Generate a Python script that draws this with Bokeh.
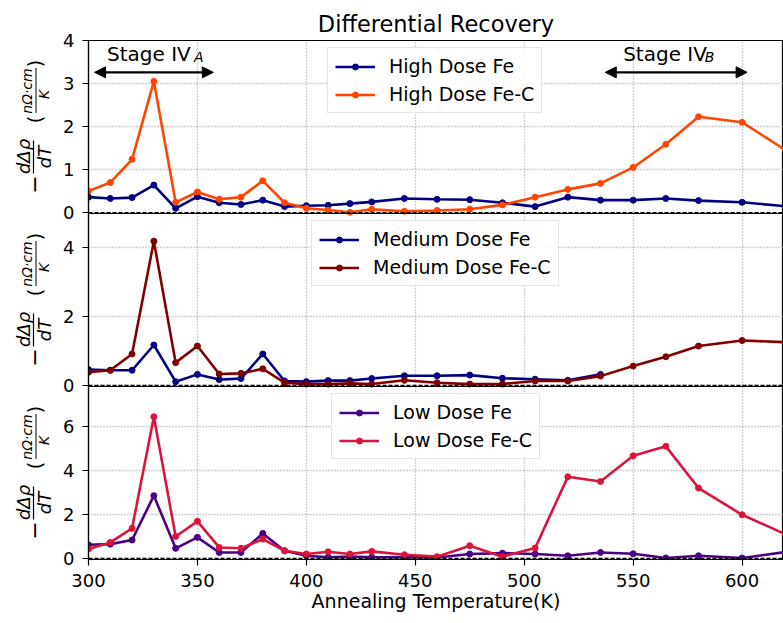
import math

from bokeh.core.properties import value
from bokeh.embed import file_html
from bokeh.layouts import row
from bokeh.models import (Arrow, FixedTicker, Label, Legend, LegendItem, NormalHead,
                          Range1d, Span)
from bokeh.plotting import figure
from bokeh.resources import INLINE

FONT = "DejaVu Sans"

# Annealing temperatures (K)
temps = [300, 310, 320, 330, 340, 350, 360, 370, 380, 390, 400, 410, 420, 430,
         445, 460, 475, 490, 505, 520, 535, 550, 565, 580, 600, 620]

# -d(delta rho)/dT in nOhm*cm/K
high_fe = [0.36, 0.33, 0.35, 0.64, 0.10, 0.37, 0.23, 0.19, 0.29, 0.14, 0.16, 0.17, 0.21, 0.25,
           0.33, 0.31, 0.30, 0.23, 0.14, 0.36, 0.29, 0.29, 0.33, 0.28, 0.24, 0.15]
high_fec = [0.50, 0.70, 1.24, 3.05, 0.24, 0.48, 0.31, 0.36, 0.74, 0.23, 0.10, 0.06, 0.01, 0.08,
            0.03, 0.05, 0.08, 0.18, 0.36, 0.54, 0.68, 1.05, 1.59, 2.23, 2.10, 1.45]

med_temps_fe = temps[:21]
med_fe = [0.46, 0.44, 0.44, 1.17, 0.11, 0.32, 0.17, 0.20, 0.91, 0.13, 0.11, 0.14, 0.14, 0.20,
          0.28, 0.28, 0.30, 0.21, 0.18, 0.15, 0.32]
med_fec = [0.38, 0.44, 0.91, 4.17, 0.66, 1.14, 0.33, 0.35, 0.48, 0.08, 0.04, 0.04, 0.06, 0.04,
           0.15, 0.08, 0.04, 0.04, 0.13, 0.13, 0.27, 0.56, 0.83, 1.14, 1.30, 1.25]

low_fe = [0.62, 0.65, 0.84, 2.86, 0.46, 0.96, 0.27, 0.27, 1.14, 0.35, 0.12, 0.05, 0.08, 0.05,
          0.05, 0.04, 0.20, 0.24, 0.20, 0.12, 0.27, 0.21, 0.02, 0.12, 0.02, 0.29]
low_fec = [0.43, 0.73, 1.37, 6.46, 1.00, 1.69, 0.50, 0.46, 0.88, 0.35, 0.20, 0.30, 0.20, 0.32,
           0.17, 0.08, 0.58, 0.08, 0.47, 3.72, 3.51, 4.68, 5.11, 3.21, 1.99, 1.10]

x_ticks = [300, 350, 400, 450, 500, 550, 600]

# Stacked sub-panels: name -> (slot from bottom, y limits, y tick values)
panels = {
    "high": (2, (-0.02, 4.0), [0, 1, 2, 3, 4]),
    "medium": (1, (-0.03, 4.97), [0, 2, 4]),
    "low": (0, (-0.05, 7.84), [0, 2, 4, 6]),
}

FRAME_W = 695
SLOT_H = 173
LABEL_W = 60
TOP = 40


def slot_pos(name, v):
    """Position of panel value v on the shared slot axis (0..3)."""
    k, (lo, hi), _ = panels[name]
    return round(k + (v - lo) / (hi - lo), 6)


p = figure(frame_width=FRAME_W, frame_height=3 * SLOT_H,
           x_range=Range1d(300, 619), y_range=Range1d(0, 3),
           output_backend="svg", toolbar_location=None,
           min_border_left=88 - LABEL_W, min_border_right=0,
           min_border_top=TOP, min_border_bottom=0)

# one y range per panel, each stretched so its limits fill its own slot
for name, (k, (lo, hi), _) in panels.items():
    span = hi - lo
    p.extra_y_ranges[name] = Range1d(lo - k * span, hi + (2 - k) * span)

p.outline_line_color = "black"
p.outline_line_width = 1.2
p.background_fill_color = "white"
p.border_fill_color = "white"

tick_pos, tick_lbl = [], {}
for name, (_, _, ticks) in panels.items():
    for t in ticks:
        pos = slot_pos(name, t)
        tick_pos.append(pos)
        tick_lbl[pos] = str(t)
p.yaxis.ticker = FixedTicker(ticks=sorted(tick_pos))
p.yaxis.major_label_overrides = tick_lbl
p.xaxis.ticker = FixedTicker(ticks=x_ticks)

for g in (p.xgrid, p.ygrid):
    g.grid_line_color = "#a0a0a0"
    g.grid_line_dash = "1 2"
    g.grid_line_width = 1.3

for ax in p.axis:
    ax.axis_line_color = "black"
    ax.axis_line_width = 1.2
    ax.major_tick_line_color = "black"
    ax.major_tick_line_width = 1.2
    ax.major_tick_out = 6
    ax.major_tick_in = 0
    ax.minor_tick_out = 0
    ax.minor_tick_in = 0
    ax.major_label_text_font = FONT
    ax.major_label_text_font_size = "18px"
    ax.major_label_text_color = "black"
    ax.major_label_standoff = 8

p.xaxis.axis_label = "Annealing Temperature(K)"
p.xaxis.axis_label_text_font = FONT
p.xaxis.axis_label_text_font_size = "19px"
p.xaxis.axis_label_text_font_style = "normal"
p.xaxis.axis_label_text_color = "black"
p.xaxis.axis_label_standoff = 0

p.title.text = "Differential Recovery"
p.title.align = "center"
p.title.text_font = FONT
p.title.text_font_size = "22.5px"
p.title.text_font_style = "normal"
p.title.text_color = "black"
p.title.standoff = 7

# panel separators and dashed zero lines
for loc in (1, 2):
    p.add_layout(Span(location=loc, dimension="width", line_color="black", line_width=1.2))
for name in panels:
    p.add_layout(Span(location=0, dimension="width", y_range_name=name,
                      line_color="black", line_dash="4 2", line_width=1.3))


def add_series(name, xs, ys, color):
    r1 = p.line(xs, ys, line_color=color, line_width=2.6, y_range_name=name)
    r2 = p.scatter(xs, ys, size=6, fill_color=color, line_color=color, y_range_name=name)
    return [r1, r2]


def add_legend(items, loc):
    lg = Legend(items=[LegendItem(label=lbl, renderers=rs) for lbl, rs in items],
                location=loc, padding=7, spacing=6, glyph_width=40, glyph_height=15,
                label_height=21, label_standoff=14, label_text_font=FONT,
                label_text_font_size="19px", label_text_color="black",
                border_line_color="#cccccc", border_line_width=1,
                background_fill_alpha=0.85)
    p.add_layout(lg, "center")


add_legend([("High Dose Fe", add_series("high", temps, high_fe, "#000080")),
            ("High Dose Fe-C", add_series("high", temps, high_fec, "#ff4500"))],
           (239, 446))
add_legend([("Medium Dose Fe", add_series("medium", med_temps_fe, med_fe, "#000080")),
            ("Medium Dose Fe-C", add_series("medium", temps, med_fec, "#800000"))],
           (223, 273))
add_legend([("Low Dose Fe", add_series("low", temps, low_fe, "#4b0082")),
            ("Low Dose Fe-C", add_series("low", temps, low_fec, "#dc143c"))],
           (243, 100))

# Stage annotations in the top panel
for x0, x1 in ((302.8, 357.3), (537.2, 602.3)):
    p.add_layout(Arrow(x_start=x0, y_start=3.26, x_end=x1, y_end=3.26, y_range_name="high",
                       line_color="black", line_width=2.4,
                       start=NormalHead(size=11, fill_color="black", line_color="black"),
                       end=NormalHead(size=11, fill_color="black", line_color="black")))
for xs, xsub, sub in ((308.5, 348.4, "A"), (545.4, 582.9, "B")):
    p.add_layout(Label(x=xs, y=3.68, text="Stage IV", y_range_name="high", text_font=FONT,
                       text_font_size="20px", text_color="black",
                       text_baseline="alphabetic"))
    p.add_layout(Label(x=xsub, y=3.61, text=sub, y_range_name="high", text_font=FONT,
                       text_font_size="14px", text_font_style="italic",
                       text_color="black", text_baseline="alphabetic"))

# Rotated fraction-style y labels, one per panel, in a narrow side figure
lab = figure(frame_width=LABEL_W, frame_height=3 * SLOT_H,
             x_range=Range1d(0, LABEL_W), y_range=Range1d(0, 3 * SLOT_H),
             output_backend="svg", toolbar_location=None,
             x_axis_location=None, y_axis_location=None,
             min_border_left=0, min_border_right=0,
             min_border_top=TOP, min_border_bottom=0)
lab.outline_line_color = None
lab.xgrid.visible = False
lab.ygrid.visible = False
lab.border_fill_color = "white"

common = dict(angle=math.pi / 2, text_align="center", text_baseline="middle",
              text_color="black", text_font=value(FONT))
for name, (k, _, _) in panels.items():
    b = k * SLOT_H
    lab.text(x=[33], y=[b + 29], text=["\u2212"], text_font_size="22px", **common)
    lab.text(x=[22.5], y=[b + 57], text=["d\u0394\u03c1"], text_font_size="18px",
             text_font_style="italic", **common)
    lab.text(x=[43.5], y=[b + 56.5], text=["dT"], text_font_size="18px",
             text_font_style="italic", **common)
    lab.segment(x0=[33], y0=[b + 40], x1=[33], y1=[b + 73], line_color="black", line_width=1.2)
    lab.text(x=[34.5], y=[b + 94], text=["("], text_font_size="19px", **common)
    lab.text(x=[34.5], y=[b + 150], text=[")"], text_font_size="19px", **common)
    lab.text(x=[26.7], y=[b + 122.5], text=["n\u03a9\u00b7cm"], text_font_size="14px",
             text_font_style="italic", **common)
    lab.text(x=[43.3], y=[b + 119], text=["K"], text_font_size="14px",
             text_font_style="italic", **common)
    lab.segment(x0=[35.5], y0=[b + 100.5], x1=[35.5], y1=[b + 145.5],
                line_color="black", line_width=1)

layout = row(lab, p, spacing=0)

with open("out.html", "w") as fh:
    fh.write(file_html(layout, INLINE))
